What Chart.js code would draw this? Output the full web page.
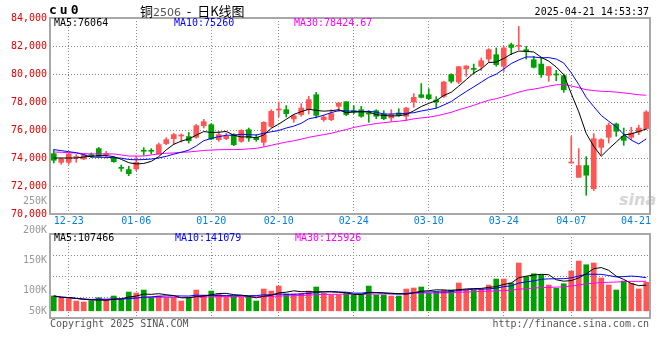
<!DOCTYPE html>
<html>
<head>
<meta charset="utf-8">
<title>cu0 日K线图</title>
<script src="https://cdn.jsdelivr.net/npm/chart.js@4.4.1/dist/chart.umd.min.js"></script>
<style>
  body { margin: 0; background: #fff; }
  #wrap { position: relative; width: 660px; height: 360px; overflow: hidden;
          font-family: "DejaVu Sans Mono", monospace; font-size: 10px; }
  #wrap div { position: absolute; white-space: nowrap; line-height: 12px; z-index: 3; }
  canvas { position: absolute; left: 0; }
  #kline { top: 0; z-index: 1; }
  #vol { top: 190px; z-index: 2; }
</style>
</head>
<body>
<div id="wrap">
  <div style="left:49px; top:4px; font-weight:bold; font-size:13px; letter-spacing:3px;">cu0</div>
  <div style="left:140px; top:3px; font-family:'Noto Sans CJK SC'; font-size:13px; line-height:16px;">铜<span style="font-family:'DejaVu Sans'; font-size:11px; color:#555;">2506</span>&nbsp;&nbsp;-&nbsp;&nbsp;日K线图</div>
  <div style="right:11px; top:6px;">2025-04-21 14:53:37</div>

  <div style="left:54px; top:17px; color:#000;">MA5:76064</div>
  <div style="left:174px; top:17px; color:#0000ff;">MA10:75260</div>
  <div style="left:294px; top:17px; color:#ff00ff;">MA30:78424.67</div>

  <div style="left:54px; top:232px; color:#000;">MA5:107466</div>
  <div style="left:175px; top:232px; color:#0000ff;">MA10:141079</div>
  <div style="left:295px; top:232px; color:#ff00ff;">MA30:125926</div>

  <div style="left:50px; top:318px; color:#555;">Copyright 2025 SINA.COM</div>
  <div style="right:11px; top:318px; color:#555;">http://finance.sina.com.cn</div>

  <div style="left:619px; top:192px; z-index:0; font-family:'DejaVu Sans'; font-weight:bold; font-style:italic; font-size:16px; line-height:16px; color:#d6d6d6;">sina</div>

  <canvas id="kline" width="660" height="232"></canvas>
  <canvas id="vol" width="660" height="140"></canvas>
</div>

<script>
// trading days shown on the chart
let dates = [
  "12-19", "12-20", "12-23", "12-24", "12-25", "12-26", "12-27", "12-30", "12-31", "01-02",
  "01-03", "01-06", "01-07", "01-08", "01-09", "01-10", "01-13", "01-14", "01-15", "01-16",
  "01-17", "01-20", "01-21", "01-22", "01-23", "01-24", "01-27", "02-05", "02-06", "02-07",
  "02-10", "02-11", "02-12", "02-13", "02-14", "02-17", "02-18", "02-19", "02-20", "02-21",
  "02-24", "02-25", "02-26", "02-27", "02-28", "03-03", "03-04", "03-05", "03-06", "03-07",
  "03-10", "03-11", "03-12", "03-13", "03-14", "03-17", "03-18", "03-19", "03-20", "03-21",
  "03-24", "03-25", "03-26", "03-27", "03-28", "03-31", "04-01", "04-02", "04-03", "04-07",
  "04-08", "04-09", "04-10", "04-11", "04-14", "04-15", "04-16", "04-17", "04-18", "04-21",
];

// daily prices
let opens = [
  74310, 73690, 73690, 74030, 73930, 74240, 74670, 74240, 74000, 73310,
  73170, 73220, 74550, 74550, 74290, 75030, 75380, 75570, 75530, 75480,
  76310, 76380, 75310, 75380, 75670, 75190, 76020, 75480, 75120, 76260,
  77430, 77450, 76790, 77100, 77450, 78520, 76740, 76740, 77690, 78020,
  77380, 77450, 77220, 77380, 77140, 76860, 77220, 76980, 78000, 78520,
  78520, 78140, 78400, 79950, 79430, 80360, 80380, 80550, 81070, 81380,
  80550, 82090, 81980, 81740, 81020, 80710, 79900, 79980, 79880, 73640,
  72620, 73460, 71810, 74760, 75480, 76430, 75550, 75480, 75860, 76100,
];
let highs = [
  74600, 74000, 74360, 74240, 74290, 74360, 74760, 74480, 74070, 73500,
  73410, 74120, 74740, 74670, 75070, 75450, 75760, 75720, 75830, 76400,
  76760, 76450, 75910, 75790, 75740, 76020, 76140, 75670, 76600, 77450,
  78000, 77740, 77100, 77880, 78400, 78690, 77020, 77450, 77980, 78020,
  77740, 77690, 77380, 77450, 77380, 77450, 77520, 77620, 78600, 79310,
  78950, 78380, 79480, 80020, 80550, 80600, 80710, 81140, 81810, 81860,
  81980, 82210, 83400, 81980, 81260, 81190, 80550, 80260, 80000, 75530,
  74670, 74100, 75740, 75380, 76500, 76500, 76140, 76190, 76340, 77380,
];
let lows = [
  73640, 73550, 73550, 73690, 73880, 74050, 74070, 74000, 73690, 73050,
  72740, 73100, 74190, 74290, 74290, 74950, 74950, 75140, 75070, 75410,
  76140, 75310, 75190, 75310, 74880, 75120, 75190, 75190, 74840, 76190,
  76930, 76930, 76550, 76980, 77140, 76860, 76620, 76670, 77330, 77020,
  77170, 76910, 76550, 76810, 76740, 76620, 76980, 76670, 77620, 78290,
  78170, 77570, 78330, 79360, 79310, 79830, 80000, 80260, 80860, 80550,
  80190, 81380, 81740, 81070, 80430, 79760, 79480, 79520, 78690, 73640,
  72620, 71340, 71670, 74240, 75070, 75550, 74910, 75310, 75670, 76030,
];
let closes = [
  73840, 73910, 74290, 74100, 74220, 74100, 74120, 74310, 73740, 73260,
  72880, 73690, 74480, 74480, 74950, 75310, 75670, 75620, 75240, 76310,
  76600, 75360, 75670, 75550, 74950, 75980, 75430, 75310, 76550, 77330,
  77480, 77170, 77020, 77570, 78170, 77050, 76930, 77170, 77930, 77100,
  77290, 76980, 77140, 76980, 76810, 77100, 77050, 77570, 78330, 78330,
  78240, 78000, 79430, 79480, 80520, 80570, 80330, 80950, 81740, 80670,
  81860, 81900, 82020, 81620, 80480, 79950, 80520, 79930, 78880, 73690,
  73460, 72770, 75380, 75310, 76340, 75910, 75260, 75790, 76140, 77290,
];

// daily volume (lots)
let volumes = [
  89900, 86000, 86000, 81500, 79800, 81500, 87000, 83200, 89900, 84300,
  96600, 94900, 100000, 87700, 89900, 87700, 87700, 81500, 87700, 100000,
  91600, 98300, 93300, 88800, 88800, 87700, 87700, 81500, 101700, 98300,
  106700, 93300, 93300, 94400, 98300, 105100, 94400, 91600, 91600, 94400,
  91600, 93300, 106700, 91600, 91600, 89900, 89900, 101700, 103400, 105100,
  94400, 97200, 100000, 100000, 111800, 100000, 100000, 101700, 108400, 118500,
  118500, 111800, 145500, 122400, 127400, 125300, 108400, 102800, 110600, 132000,
  148800, 142600, 145500, 120200, 108400, 100000, 115200, 111300, 101700, 113000,
];
let volBase = 65000;

// moving averages at the left edge (earlier days are not shown)
let ma5Head = [74000, 74000, 74000, 74000];
let ma10Head = [74600, 74530, 74450, 74380, 74240, 74070, 74050, 74050, 74020];
let ma30Head = [
  74430, 74410, 74380, 74360, 74310, 74290, 74290, 74290, 74290, 74220,
  74140, 74140, 74140, 74220, 74290, 74340, 74360, 74410, 74430, 74480,
  74540, 74570, 74590, 74600, 74600, 74610, 74650, 74690, 74790,
];

// axis labels
let dateTicks = ["12-23", "01-06", "01-20", "02-10", "02-24", "03-10", "03-24", "04-07", "04-21"];
let priceMin = 70000;
let priceMax = 84000;
let priceStep = 2000;
let volMin = 52900;
let volMax = 194300;
let volTicks = [250000, 200000, 150000, 100000, 50000];
let volTickLabels = ["250K", "200K", "150K", "100K", "50K"];

let upColor = "#ff5555";
let downColor = "#00a000";
let gridColor = "#888888";

function movingAverage(values, n, head) {
  return values.map(function (v, i) {
    if (i < n - 1 && head) return head[i];
    let from = Math.max(0, i - n + 1);
    let win = values.slice(from, i + 1);
    return win.reduce((s, x) => s + x, 0) / win.length;
  });
}

let candleColors = closes.map((c, i) => (c >= opens[i] ? upColor : downColor));
let bodies = opens.map((o, i) => [o, closes[i]]);
let wicks = lows.map((l, i) => [l, highs[i]]);

// vertical grid lines only on the labelled days (not on the last one, it sits on the frame)
let gridIdx = dateTicks.slice(0, -1).map(d => dates.indexOf(d));

let monoFont = { family: "DejaVu Sans Mono", size: 10 };

// grey frame round the plot
let framePlugin = {
  id: "frame",
  afterDraw(chart) {
    let { ctx, chartArea: a } = chart;
    ctx.save();
    ctx.strokeStyle = "#a8a8a8";
    ctx.lineWidth = 2;
    ctx.strokeRect(a.left, a.top, a.right - a.left, a.bottom - a.top);
    ctx.restore();
  },
};

// date labels under the price panel
let dateLabelPlugin = {
  id: "dateLabels",
  afterDraw(chart) {
    let { ctx, chartArea: a, scales } = chart;
    ctx.save();
    ctx.font = '10px "DejaVu Sans Mono"';
    ctx.fillStyle = "#0080e0";
    ctx.textAlign = "center";
    ctx.textBaseline = "middle";
    dateTicks.forEach(function (d) {
      let half = ctx.measureText(d).width / 2;
      let px = scales.x.getPixelForValue(dates.indexOf(d));
      px = Math.min(px, a.right + 1 - half);
      ctx.fillText(d, px, a.bottom + 7);
    });
    ctx.restore();
  },
};

// volume axis labels
let volLabelPlugin = {
  id: "volLabels",
  afterDraw(chart) {
    let { ctx, chartArea: a, scales } = chart;
    ctx.save();
    ctx.font = '10px "DejaVu Sans Mono"';
    ctx.fillStyle = "#999";
    ctx.textAlign = "right";
    ctx.textBaseline = "middle";
    volTicks.forEach(function (v, i) {
      let py = Math.min(scales.y.getPixelForValue(v), a.bottom - 7);
      ctx.fillText(volTickLabels[i], a.left - 3, py);
    });
    ctx.restore();
  },
};

function xAxis() {
  return {
    offset: true,
    ticks: { display: false, autoSkip: false },
    grid: {
      offset: false,
      drawTicks: false,
      lineWidth: 1,
      color: ctx => (gridIdx.includes(ctx.index) ? gridColor : "rgba(0,0,0,0)"),
    },
    border: { display: false, dash: [1, 2] },
    afterFit: s => { s.height = 0; },
  };
}

function maLine(label, data, color) {
  return {
    type: "line",
    label: label,
    data: data,
    borderColor: color,
    borderWidth: 1,
    pointRadius: 0,
    fill: false,
    tension: 0,
    order: 0,
  };
}

let klineChart = new Chart(document.querySelector("#kline").getContext("2d"), {
  type: "bar",
  data: {
    labels: dates,
    datasets: [
      maLine("MA5", movingAverage(closes, 5, ma5Head), "#000000"),
      maLine("MA10", movingAverage(closes, 10, ma10Head), "#0000ff"),
      maLine("MA30", movingAverage(closes, 30, ma30Head), "#ff00ff"),
      {
        label: "body",
        data: bodies,
        backgroundColor: candleColors,
        barThickness: 5,
        minBarLength: 1,
        grouped: false,
        order: 1,
      },
      {
        label: "wick",
        data: wicks,
        backgroundColor: candleColors,
        barThickness: 1,
        grouped: false,
        order: 2,
      },
    ],
  },
  options: {
    responsive: false,
    animation: false,
    layout: { padding: { top: 18, right: 10, bottom: 18, left: 0 } },
    plugins: { legend: { display: false }, tooltip: { enabled: false } },
    scales: {
      x: xAxis(),
      y: {
        min: priceMin,
        max: priceMax,
        ticks: { stepSize: priceStep, color: "#e00000", font: monoFont, padding: 3 },
        grid: { color: gridColor, lineWidth: 1, drawTicks: false },
        border: { display: false, dash: [1, 2] },
        afterFit: s => { s.width = 50; },
      },
    },
  },
  plugins: [framePlugin, dateLabelPlugin],
});

let volChart = new Chart(document.querySelector("#vol").getContext("2d"), {
  type: "bar",
  data: {
    labels: dates,
    datasets: [
      maLine("MA5", movingAverage(volumes, 5), "#000000"),
      maLine("MA10", movingAverage(volumes, 10), "#0000ff"),
      maLine("MA30", movingAverage(volumes, 30), "#ff00ff"),
      {
        label: "volume",
        data: volumes,
        base: volBase,
        backgroundColor: candleColors,
        barThickness: 5,
        grouped: false,
        order: 1,
      },
    ],
  },
  options: {
    responsive: false,
    animation: false,
    layout: { padding: { top: 44, right: 10, bottom: 12, left: 0 } },
    plugins: { legend: { display: false }, tooltip: { enabled: false } },
    scales: {
      x: xAxis(),
      y: {
        min: volMin,
        max: volMax,
        ticks: { display: false },
        grid: { color: gridColor, lineWidth: 1, drawTicks: false },
        border: { display: false, dash: [1, 2] },
        // grid lines split the volume panel in four equal parts
        afterBuildTicks: s => {
          let step = (s.max - s.min) / 4;
          s.ticks = [0, 1, 2, 3, 4].map(k => ({ value: s.min + k * step }));
        },
        afterFit: s => { s.width = 50; },
      },
    },
  },
  plugins: [framePlugin, volLabelPlugin],
});
</script>
</body>
</html>
